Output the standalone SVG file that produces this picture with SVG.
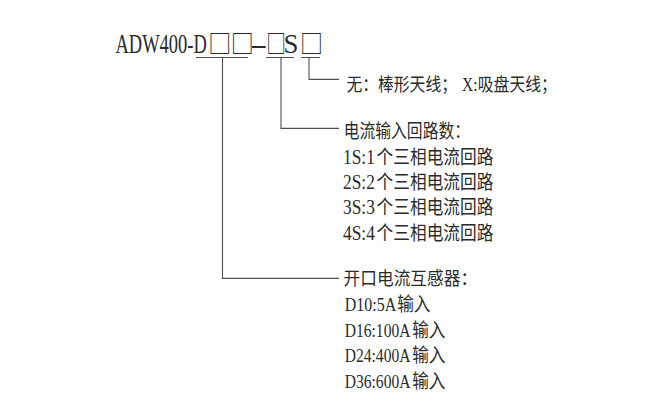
<svg xmlns="http://www.w3.org/2000/svg" width="649" height="401" viewBox="0 0 649 401">
<style>
.bg{fill:#ffffff}
text{fill:#2b2b2b}
.ttl{font-family:"Liberation Serif","Noto Sans CJK SC",serif;font-size:28px}
.box{font-family:"Noto Sans CJK SC",sans-serif;font-size:24.5px}
.lat{font-family:"Liberation Serif","Noto Sans CJK SC",serif}
.cjk{font-family:"Noto Sans CJK SC","Liberation Serif",sans-serif}
.wire{fill:none;stroke:#505050;stroke-width:1.1}
</style>
<rect class="bg" x="0" y="0" width="649" height="401"/>
<g id="title">
<text transform="translate(0,53) scale(0.66,1)" y="0"><tspan class="ttl" x="175">ADW400-D</tspan><tspan class="box" x="315.4" textLength="35" lengthAdjust="spacingAndGlyphs">□</tspan><tspan class="box" x="349.5" textLength="35" lengthAdjust="spacingAndGlyphs">□</tspan><tspan class="ttl" x="378.6" textLength="27" lengthAdjust="spacingAndGlyphs">-</tspan><tspan class="box" x="403.5" textLength="30" lengthAdjust="spacingAndGlyphs">□</tspan><tspan class="ttl" x="429.5" textLength="22.6" lengthAdjust="spacingAndGlyphs">S</tspan><tspan class="box" x="454.5" textLength="35" lengthAdjust="spacingAndGlyphs">□</tspan></text>
</g>
<g id="connectors">
<path class="wire" d="M196,57.5H248M266,57.5H294M301,57.5H320"/>
<path class="wire" d="M309,57.5V79.4H339"/>
<path class="wire" d="M281,57.5V128.4H339"/>
<path class="wire" d="M222.5,57.5V278.4H339"/>
</g>
<g id="antenna">
<text transform="translate(0,90.6) scale(1,1.16)" y="0"><tspan class="cjk" x="346.4" font-size="15.8">无：棒形天线；</tspan><tspan class="lat" x="462" font-size="15.5">X:</tspan><tspan class="cjk" x="477.8" font-size="15.8">吸盘天线；</tspan></text>
</g>
<g id="loops">
<text transform="translate(0,137.6) scale(1,1.2)" y="0"><tspan class="cjk" x="343.7" font-size="15.8">电流输入回路数：</tspan></text>
<text transform="translate(0,164) scale(1,1.15)" y="0"><tspan class="lat" x="343" font-size="17.4">1S:1</tspan><tspan class="cjk" x="376.6" font-size="16.7">个三相电流回路</tspan></text>
<text transform="translate(0,189) scale(1,1.15)" y="0"><tspan class="lat" x="343" font-size="17.4">2S:2</tspan><tspan class="cjk" x="376.6" font-size="16.7">个三相电流回路</tspan></text>
<text transform="translate(0,214.3) scale(1,1.15)" y="0"><tspan class="lat" x="343" font-size="17.4">3S:3</tspan><tspan class="cjk" x="376.6" font-size="16.7">个三相电流回路</tspan></text>
<text transform="translate(0,239.5) scale(1,1.15)" y="0"><tspan class="lat" x="343" font-size="17.4">4S:4</tspan><tspan class="cjk" x="376.6" font-size="16.7">个三相电流回路</tspan></text>
</g>
<g id="ct">
<text transform="translate(0,284.6) scale(1,1.1)" y="0"><tspan class="cjk" x="343.6" font-size="16.7">开口电流互感器：</tspan></text>
<text transform="translate(0,311.3) scale(1,1.18)" y="0"><tspan class="lat" x="344.7" font-size="16">D10:5A</tspan><tspan class="cjk" x="397.2" font-size="16.7">输入</tspan></text>
<text transform="translate(0,336.7) scale(1,1.18)" y="0"><tspan class="lat" x="344.7" font-size="15.6">D16:100A</tspan><tspan class="cjk" x="412.2" font-size="16.7">输入</tspan></text>
<text transform="translate(0,362.2) scale(1,1.18)" y="0"><tspan class="lat" x="344.7" font-size="15.6">D24:400A</tspan><tspan class="cjk" x="412.2" font-size="16.7">输入</tspan></text>
<text transform="translate(0,387.7) scale(1,1.18)" y="0"><tspan class="lat" x="344.7" font-size="15.6">D36:600A</tspan><tspan class="cjk" x="412.2" font-size="16.7">输入</tspan></text>
</g>
</svg>
